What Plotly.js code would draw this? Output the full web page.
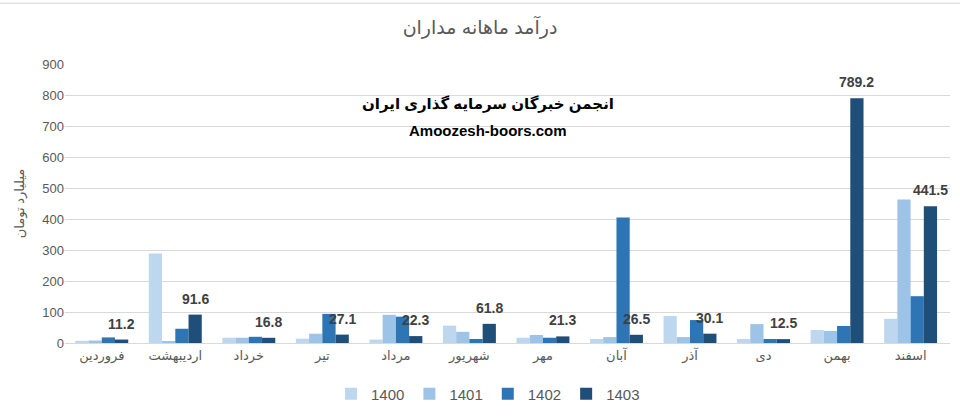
<!DOCTYPE html>
<html>
<head>
<meta charset="utf-8">
<script src="https://cdn.plot.ly/plotly-3.0.1.min.js"></script>
<style>
  html, body { margin: 0; padding: 0; background: #fff; }
  #chart { width: 960px; height: 420px; }
</style>
</head>
<body>
<div id="chart"></div>
<script>
// Months (categories)
const months = ["فروردین", "اردیبهشت", "خرداد", "تیر", "مرداد", "شهریور", "مهر", "آبان", "آذر", "دی", "بهمن", "اسفند"];

// Series values (billion toman)
const s1400 = [7, 289, 17, 14, 11, 56, 17, 13, 87, 13, 42, 78];
const s1401 = [8, 6, 17, 30, 91, 36, 26, 19, 19, 61, 39, 463];
const s1402 = [18, 46, 20, 94, 85, 13, 17, 405, 74, 13, 55, 151];
const s1403 = [11.2, 91.6, 16.8, 27.1, 22.3, 61.8, 21.3, 26.5, 30.1, 12.5, 789.2, 441.5];

const seriesNames = ["1400", "1401", "1402", "1403"];
const seriesValues = [s1400, s1401, s1402, s1403];
const seriesColors = ["#BDD7EE", "#9DC3E6", "#2E75B6", "#1F4E79"];

const titleText = "درآمد ماهانه مداران";
const yTitleText = "میلیارد تومان";
const watermark1 = "انجمن خبرگان سرمایه گذاری ایران";
const watermark2 = "Amoozesh-boors.com";

const baseFont = "Liberation Sans, Arial, DejaVu Sans, sans-serif";

const W = 960, H = 420;
const M = { l: 65, r: 10, t: 64, b: 76 };
const BARGAP = 0.28;

const traces = seriesNames.map((name, i) => ({
  type: "bar",
  name: name,
  x: months,
  y: seriesValues[i],
  marker: { color: seriesColors[i], line: { width: 0 } },
  textposition: "none",
  hoverinfo: "x+y+name"
}));

// Data labels for the 1403 series, anchored to the data through the axes
const plotW = W - M.l - M.r;
const catW = plotW / months.length;
const barW = catW * (1 - BARGAP) / seriesNames.length;
const lastBarShift = barW * 1.5;

const labelAnnotations = s1403.map((v, i) => ({
  x: months[i],
  y: v,
  xref: "x", yref: "y",
  text: v.toFixed(1),
  showarrow: false,
  xanchor: "center",
  yanchor: "bottom",
  xshift: lastBarShift,
  yshift: 6,
  font: { family: baseFont, size: 14, color: "#404040", weight: "bold" }
}));

const shapes = [{
  type: "line", xref: "paper", yref: "paper",
  x0: -0.1, x1: 1.1, y0: 1.218, y1: 1.218,
  line: { color: "#D4D4D4", width: 1 }
}];

const layout = {
  width: W,
  height: H,
  margin: M,
  paper_bgcolor: "#FFFFFF",
  plot_bgcolor: "#FFFFFF",
  font: { family: baseFont, color: "#595959", size: 13 },
  title: {
    text: titleText,
    font: { family: baseFont, size: 19, color: "#595959" },
    x: 0.5, xanchor: "center",
    y: 0.935, yanchor: "middle"
  },
  barmode: "group",
  bargap: BARGAP,
  bargroupgap: 0,
  showlegend: true,
  legend: {
    orientation: "h",
    x: 0.478, xanchor: "center",
    y: -0.12, yanchor: "top",
    font: { family: baseFont, size: 15, color: "#595959" },
    itemwidth: 30,
    traceorder: "normal"
  },
  xaxis: {
    type: "category",
    tickfont: { family: baseFont, size: 13, color: "#595959" },
    showgrid: false,
    showline: true,
    linecolor: "#D9D9D9",
    linewidth: 1,
    ticks: "",
    fixedrange: true
  },
  yaxis: {
    range: [0, 900],
    dtick: 100,
    tick0: 0,
    showgrid: true,
    gridcolor: "#D9D9D9",
    gridwidth: 1,
    zeroline: false,
    showline: false,
    ticks: "",
    tickfont: { family: baseFont, size: 13, color: "#595959" },
    title: {
      text: yTitleText,
      font: { family: baseFont, size: 13, color: "#595959" },
      standoff: 14
    },
    fixedrange: true
  },
  annotations: [
    {
      text: "<b>" + watermark1 + "</b>",
      xref: "paper", yref: "paper",
      x: 0.478, y: 0.857,
      xanchor: "center", yanchor: "middle",
      showarrow: false,
      font: { family: baseFont, size: 15, color: "#000000" }
    },
    {
      text: "<b>" + watermark2 + "</b>",
      xref: "paper", yref: "paper",
      x: 0.478, y: 0.76,
      xanchor: "center", yanchor: "middle",
      showarrow: false,
      font: { family: baseFont, size: 15, color: "#000000" }
    }
  ].concat(labelAnnotations),
  shapes: shapes
};

Plotly.newPlot("chart", traces, layout, { displayModeBar: false, responsive: false });
</script>
</body>
</html>
